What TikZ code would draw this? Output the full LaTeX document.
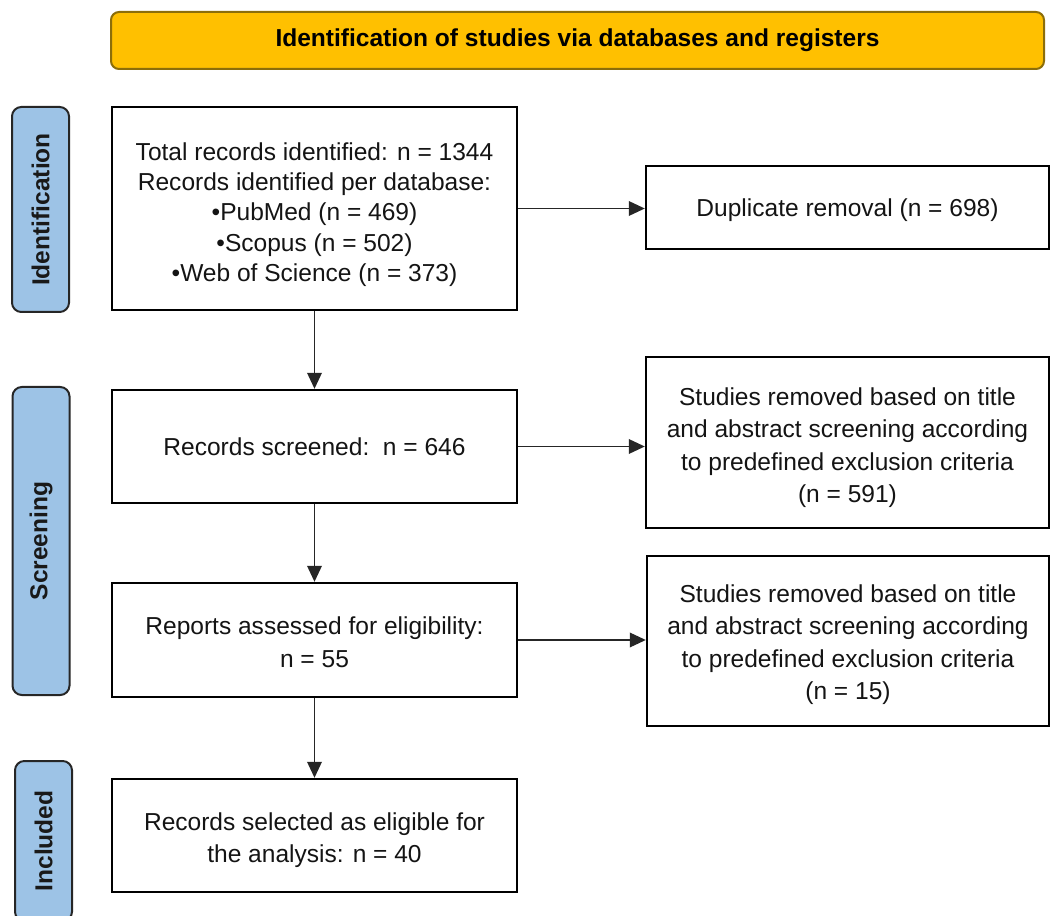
\documentclass[tikz,border=0pt]{standalone}
\usepackage{fontspec}
\setmainfont{Liberation Sans}
\usetikzlibrary{arrows.meta}
\definecolor{bannerfill}{RGB}{255,192,0}
\definecolor{bannerdraw}{RGB}{140,110,10}
\definecolor{labfill}{RGB}{157,195,230}
\definecolor{txt}{RGB}{20,20,20}
\begin{document}
\begin{tikzpicture}[x=0.75pt,y=-0.75pt,
  box/.style={draw=black,line width=1.8pt,fill=white,inner sep=0pt},
  boxtxt/.style={align=center,text=txt,inner sep=0pt,
    font=\fontsize{18.4pt}{24.4pt}\selectfont},
  banner/.style={draw=bannerdraw,line width=1.5pt,fill=bannerfill,rounded corners=6pt,
    font=\bfseries\fontsize{18.4pt}{22pt}\selectfont,text=black,inner sep=0pt},
  phase/.style={draw=black!85,line width=1.5pt,fill=labfill,rounded corners=7pt,rotate=90,
    font=\bfseries\fontsize{18.4pt}{22pt}\selectfont,text=black!90,inner sep=0pt,
    minimum height={57*0.75pt}},
  flow/.style={line width=1pt,black!85,-{Triangle[length=12pt,width=11pt]}}]
\useasboundingbox (0,0) rectangle (1050,916);
% banner
\node[banner,minimum width={933*0.75pt},minimum height={57*0.75pt}] (top) at (577.5,40.5)
  {Identification of studies via databases and registers};
% phase labels
\node[phase,minimum width={205*0.75pt}] (lid) at (40.5,209.5) {Identification};
\node[phase,minimum width={308*0.75pt}] (lsc) at (41,541) {Screening};
\node[phase,minimum width={160*0.75pt}] (lin) at (43.5,841) {Included};
% boxes
\node[box,minimum width={405*0.75pt},minimum height={203*0.75pt}] (tot) at (314.5,208.5) {};
\node[box,minimum width={403*0.75pt},minimum height={83*0.75pt}] (dup) at (847.5,207.5) {};
\node[box,minimum width={405*0.75pt},minimum height={113*0.75pt}] (scr) at (314.5,446.5) {};
\node[box,minimum width={403*0.75pt},minimum height={171*0.75pt}] (exa) at (847.5,442.5) {};
\node[box,minimum width={405*0.75pt},minimum height={114*0.75pt}] (rep) at (314.5,640) {};
\node[box,minimum width={402*0.75pt},minimum height={170*0.75pt}] (exb) at (848,641) {};
\node[box,minimum width={405*0.75pt},minimum height={113*0.75pt}] (inc) at (314.5,835.5) {};
% box texts
\node[boxtxt,font=\fontsize{18.4pt}{22.8pt}\selectfont] (tott) at ([yshift=-4.5pt]tot.center)
  {Total records identified: n = 1344\\Records identified per database:\\
   •PubMed (n = 469)\\•Scopus (n = 502)\\•Web of Science (n = 373)};
\node[boxtxt] (dupt) at ([yshift=-2.2pt]dup.center) {Duplicate removal (n = 698)};
\node[boxtxt] (scrt) at (scr.center) {Records screened:\ \ n = 646};
\node[boxtxt] (exat) at ([yshift=-3.8pt]exa.center)
  {Studies removed based on title\\and abstract screening according\\to predefined exclusion criteria\\(n = 591)};
\node[boxtxt] (rept) at ([yshift=-1.5pt]rep.center) {Reports assessed for eligibility:\\n = 55};
\node[boxtxt] (exbt) at ([yshift=-2.6pt]exb.center)
  {Studies removed based on title\\and abstract screening according\\to predefined exclusion criteria\\(n = 15)};
\node[boxtxt] (inct) at ([yshift=-3.4pt]inc.center) {Records selected as eligible for\\the analysis: n = 40};
% connectors
\draw[flow] (tot.south) -- (scr.north);
\draw[flow] (scr.south) -- (rep.north);
\draw[flow] (rep.south) -- (inc.north);
\draw[flow] (tot.east) -- (tot.east -| dup.west);
\draw[flow] (scr.east) -- (scr.east -| exa.west);
\draw[flow] (rep.east) -- (rep.east -| exb.west);
\end{tikzpicture}
\end{document}
